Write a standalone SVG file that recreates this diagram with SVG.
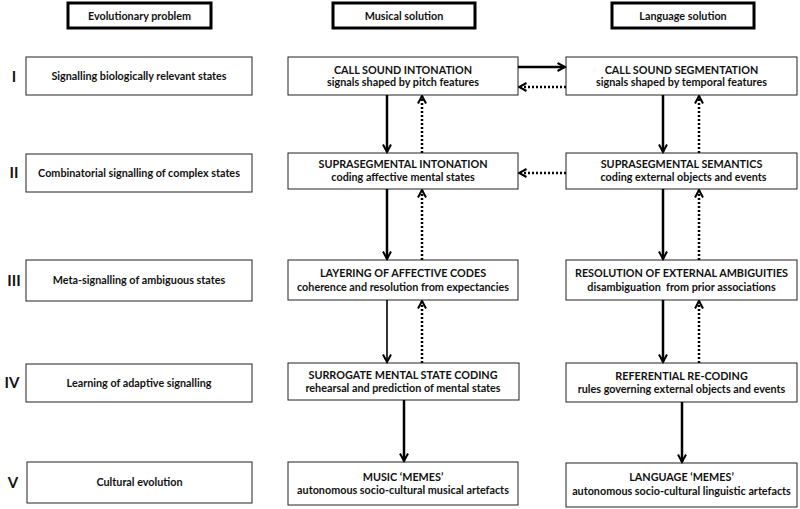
<svg xmlns="http://www.w3.org/2000/svg" width="800" height="509" viewBox="0 0 800 509">
<style>
.box{fill:#fff;stroke:#222;stroke-width:1}
.hdr{fill:#fff;stroke:#000;stroke-width:3}
text{font-family:Lato,"Liberation Sans",sans-serif;font-weight:bold;font-size:10.8px;fill:#111;text-anchor:middle;white-space:pre}
.num{font-size:15px}
.solid{stroke:#000;stroke-width:2.5;fill:none}
.thin{stroke:#000;stroke-width:1.6;fill:none}
.dot{stroke:#000;stroke-width:2.5;stroke-dasharray:2 2;fill:none}
</style>
<defs>
<marker id="ah" viewBox="0 0 10 10" refX="8.5" refY="5" markerWidth="10" markerHeight="10" markerUnits="userSpaceOnUse" orient="auto">
<path d="M1,1 L8.5,5 L1,9" fill="none" stroke="#000" stroke-width="2"/>
</marker>
</defs>
<rect width="800" height="509" fill="#fff"/>

<g id="headers">
<g id="h-evo"><rect class="hdr" x="68" y="3" width="143" height="25"/><text x="139.5" y="20">Evolutionary problem</text></g>
<g id="h-music"><rect class="hdr" x="333" y="3" width="142" height="25"/><text x="404" y="20">Musical solution</text></g>
<g id="h-lang"><rect class="hdr" x="612" y="3" width="142" height="25"/><text x="683" y="20">Language solution</text></g>
</g>

<g id="numerals">
<text class="num" x="14" y="82">I</text>
<text class="num" x="14" y="178">II</text>
<text class="num" x="14" y="286">III</text>
<text class="num" x="12" y="388">IV</text>
<text class="num" x="13" y="488">V</text>
</g>

<g id="problems">
<g id="p1"><rect class="box" x="26" y="57" width="226" height="38"/><text x="139" y="80">Signalling biologically relevant states</text></g>
<g id="p2"><rect class="box" x="26" y="154" width="226" height="38"/><text x="139" y="177">Combinatorial signalling of complex states</text></g>
<g id="p3"><rect class="box" x="26" y="260" width="226" height="41"/><text x="139" y="284">Meta-signalling of ambiguous states</text></g>
<g id="p4"><rect class="box" x="26" y="364" width="226" height="38"/><text x="139" y="387">Learning of adaptive signalling</text></g>
<g id="p5"><rect class="box" x="27" y="462" width="225" height="41"/><text x="139.5" y="486">Cultural evolution</text></g>
</g>

<g id="music">
<g id="m1"><rect class="box" x="288" y="57" width="230" height="38"/><text x="403" y="74">CALL SOUND INTONATION</text><text x="403" y="85.5">signals shaped by pitch features</text></g>
<g id="m2"><rect class="box" x="288" y="153" width="230" height="36"/><text x="403" y="168">SUPRASEGMENTAL INTONATION</text><text x="403" y="181">coding affective mental states</text></g>
<g id="m3"><rect class="box" x="288" y="260" width="230" height="40"/><text x="403" y="277">LAYERING OF AFFECTIVE CODES</text><text x="403" y="290.5">coherence and resolution from expectancies</text></g>
<g id="m4"><rect class="box" x="288" y="363" width="231" height="37"/><text x="403" y="379">SURROGATE MENTAL STATE CODING</text><text x="403" y="392">rehearsal and prediction of mental states</text></g>
<g id="m5"><rect class="box" x="288" y="462" width="230" height="43"/><text x="403" y="481">MUSIC ‘MEMES’</text><text x="403" y="494">autonomous socio-cultural musical artefacts</text></g>
</g>

<g id="language">
<g id="l1"><rect class="box" x="566" y="57" width="231" height="38"/><text x="681.5" y="74">CALL SOUND SEGMENTATION</text><text x="681.5" y="85.5">signals shaped by temporal features</text></g>
<g id="l2"><rect class="box" x="566" y="153" width="231" height="36"/><text x="681.5" y="168">SUPRASEGMENTAL SEMANTICS</text><text x="683.5" y="181">coding external objects and events</text></g>
<g id="l3"><rect class="box" x="566" y="260" width="231" height="40"/><text x="681.5" y="277">RESOLUTION OF EXTERNAL AMBIGUITIES</text><text x="681.5" y="290.5">disambiguation  from prior associations</text></g>
<g id="l4"><rect class="box" x="566" y="363" width="231" height="39"/><text x="681.5" y="380">REFERENTIAL RE-CODING</text><text x="681.5" y="393">rules governing external objects and events</text></g>
<g id="l5"><rect class="box" x="566" y="463" width="231" height="44"/><text x="681.5" y="481">LANGUAGE ‘MEMES’</text><text x="681.5" y="495">autonomous socio-cultural linguistic artefacts</text></g>
</g>

<g id="connectors">
<line class="solid" x1="518" y1="67" x2="565" y2="67" marker-end="url(#ah)"/>
<line class="dot" x1="566" y1="87" x2="519" y2="87" marker-end="url(#ah)"/>
<line class="dot" x1="566" y1="173" x2="519" y2="173" marker-end="url(#ah)"/>

<line class="solid" x1="387" y1="95" x2="387" y2="152" marker-end="url(#ah)"/>
<line class="dot" x1="422" y1="153" x2="422" y2="96" marker-end="url(#ah)"/>
<line class="solid" x1="387" y1="189" x2="387" y2="259" marker-end="url(#ah)"/>
<line class="dot" x1="422" y1="260" x2="422" y2="190" marker-end="url(#ah)"/>
<line class="thin" x1="387" y1="300" x2="387" y2="362" marker-end="url(#ah)"/>
<line class="dot" x1="422" y1="363" x2="422" y2="301" marker-end="url(#ah)"/>
<line class="solid" x1="404" y1="400" x2="404" y2="461" marker-end="url(#ah)"/>

<line class="solid" x1="663" y1="95" x2="663" y2="152" marker-end="url(#ah)"/>
<line class="dot" x1="699" y1="153" x2="699" y2="96" marker-end="url(#ah)"/>
<line class="solid" x1="663" y1="189" x2="663" y2="259" marker-end="url(#ah)"/>
<line class="dot" x1="699" y1="260" x2="699" y2="190" marker-end="url(#ah)"/>
<line class="solid" x1="663" y1="300" x2="663" y2="362" marker-end="url(#ah)"/>
<line class="dot" x1="699" y1="363" x2="699" y2="301" marker-end="url(#ah)"/>
<line class="solid" x1="682" y1="402" x2="682" y2="462" marker-end="url(#ah)"/>
</g>
</svg>
